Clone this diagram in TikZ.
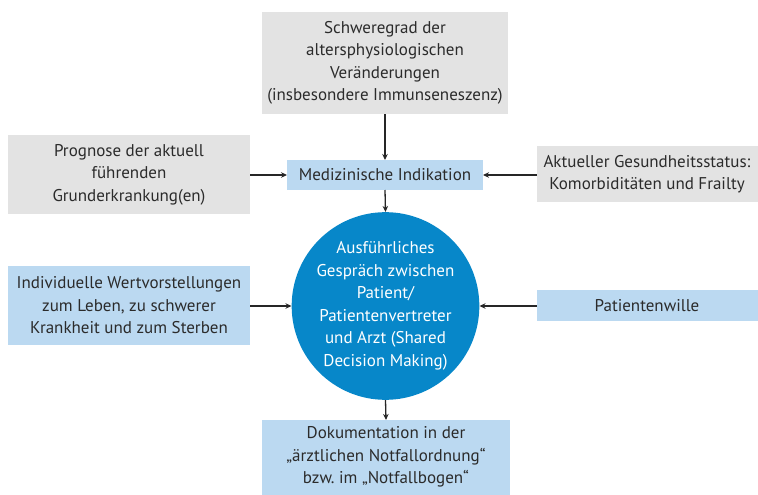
\documentclass[tikz,border=0pt]{standalone}
\usepackage{fontspec}
\setmainfont{PT Sans}
\frenchspacing
\usetikzlibrary{arrows.meta}
\definecolor{boxgray}{HTML}{E3E3E3}
\definecolor{boxblue}{HTML}{BBD9F1}
\definecolor{circblue}{HTML}{0787C9}
\definecolor{txt}{HTML}{2B2B2B}
\begin{document}
\begin{tikzpicture}[x=1pt,y=-1pt,
  box/.style={inner sep=0pt,align=center,text=txt,font=\fontsize{17}{22.5}\selectfont},
  arr/.style={-{Stealth[length=6pt,width=5.5pt]},line width=1.3pt,color=black!85}]
\useasboundingbox (0,0) rectangle (758,495);
% boxes
\fill[boxgray] (262,12) rectangle (508,114);
\node[box] (top) at (385,63) {Schweregrad der\\altersphysiologischen\\Veränderungen\\(insbesondere Immunseneszenz)};
\coordinate (topS) at (385,114);
\fill[boxblue] (287,160) rectangle (483,190);
\node[box] (med) at (385,175) {Medizinische Indikation};
\coordinate (medN) at (385,160);
\coordinate (medS) at (385,190);
\coordinate (medW) at (287,175);
\coordinate (medE) at (483,175);
\fill[boxgray] (8,135) rectangle (250,214);
\node[box] (prog) at (129,174.5) {Prognose der aktuell\\führenden\\Grunderkrankung(en)};
\coordinate (progE) at (250,175);
\fill[boxgray] (537,146) rectangle (758,202);
\node[box] (akt) at (647,174) {Aktueller Gesundheitsstatus:\\Komorbiditäten und Frailty};
\coordinate (aktW) at (537,175);
\node[circle,fill=circblue,minimum size=186pt,inner sep=0pt,align=center,text=white,font=\fontsize{17}{22.5}\selectfont] (circ) at (385.5,306) {Ausführliches\\Gespräch zwischen\\Patient/\\Patientenvertreter\\und Arzt (Shared\\Decision Making)};
\fill[boxblue] (8,266) rectangle (250,345);
\node[box] (ind) at (129,305.5) {Individuelle Wertvorstellungen\\zum Leben, zu schwerer\\Krankheit und zum Sterben};
\coordinate (indE) at (250,306);
\fill[boxblue] (537,290) rectangle (758,321);
\node[box] (pw) at (647,305.5) {Patientenwille};
\coordinate (pwW) at (537,306);
\fill[boxblue] (262,420) rectangle (510,495);
\node[box] (doc) at (386,457) {Dokumentation in der\\„ärztlichen Notfallordnung“\\bzw. im „Notfallbogen“};
\coordinate (docN) at (386,420);
% arrows
\draw[arr] (topS) -- (medN);
\draw[arr] (progE) -- (medW);
\draw[arr] (aktW) -- (medE);
\draw[arr] (medS) -- (circ.north);
\draw[arr] (indE) -- (circ.west);
\draw[arr] (pwW) -- (circ.east);
\draw[arr] (circ.south) -- (docN);
\end{tikzpicture}
\end{document}
